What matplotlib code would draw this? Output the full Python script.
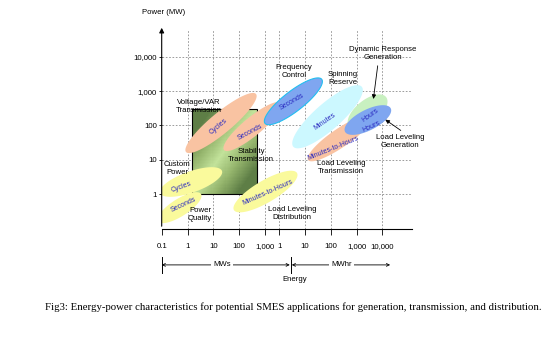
import numpy as np
import matplotlib.pyplot as plt
from matplotlib.colors import LinearSegmentedColormap
from matplotlib.patches import Polygon, Rectangle
from matplotlib.ticker import NullLocator

plt.rcParams['font.family'] = ['Liberation Sans Narrow', 'Liberation Sans', 'DejaVu Sans']
plt.rcParams['font.stretch'] = 'condensed'

# energy in MW*s, power in MW (1 MWh = 3600 MW*s)
tick_energy = [0.1, 1, 10, 100, 1000, 3600, 36000, 360000, 3.6e6, 3.6e7]
tick_energy_labels = ['0.1', '1', '10', '100', '1,000', '1', '10', '100', '1,000', '10,000']
tick_power = [1, 10, 100, 1000, 10000]
tick_power_labels = ['1', '10', '100', '1,000', '10,000']

# green box: stability transmission region
box_energy = [1.5, 480]
box_power = [1, 310]

# application ellipses: end points (energy, power) of the long axis
ell_energy = [
    (0.086, 21.7),      # custom power - cycles
    (0.072, 3.34),      # power quality - seconds
    (63, 17500),        # load leveling distribution
    (0.875, 452),       # voltage/VAR - cycles
    (26, 4200),         # stability - seconds
    (1010, 159000),     # frequency control
    (12600, 5.65e6),    # spinning reserve
    (46900, 1.42e7),    # load leveling transmission
    (1.82e6, 4.94e7),   # dynamic response
    (1.27e6, 7.5e7),    # load leveling generation
]
ell_power = [
    (1.07, 4.69),
    (0.16, 1.0),
    (0.34, 4.1),
    (16.8, 823),
    (19.2, 450),
    (115, 2210),
    (23.9, 1343),
    (9.8, 188),
    (89.8, 673),
    (65.5, 315),
]
ell_text = ['Cycles', 'Seconds', 'Minutes-to-Hours', 'Cycles', 'Seconds', 'Seconds',
            'Minutes', 'Minutes-to-Hours', 'Hours', 'Hours']
ell_text_energy = [0.6, 0.67, 1300, 15.2, 264, 10900, 213000, 437000, 1.19e7, 1.38e7]
ell_text_power = [1.63, 0.48, 1.14, 90, 65, 490, 128, 22, 200, 92]

# application labels
app_labels = ['Voltage/VAR\nTransmission', 'Frequency\nControl', 'Spinning\nReserve',
              'Dynamic Response\nGeneration', 'Load Leveling\nGeneration',
              'Load Leveling\nTransmission', 'Stability\nTransmission', 'Custom\nPower',
              'Power\nQuality', 'Load Leveling\nDistribution']
app_energy = [2.79, 13400, 1.06e6, 3.78e7, 1.72e8, 8.9e5, 289, 0.392, 3.05, 11200]
app_power = [356, 3855, 2410, 12900, 35.1, 5.93, 13.7, 5.73, 0.261, 0.27]

# styles
orange = '#F9C3A2'
yellow = '#FAFA9C'
blue = '#7FA6F0'
ell_ratio = [0.32, 0.34, 0.30, 0.23, 0.25, 0.28, 0.29, 0.24, 0.50, 0.40]
ell_face = [yellow, yellow, yellow, orange, orange, blue, '#CCF8FF', orange, '#C8F0C0', blue]
ell_edge = ['none'] * 5 + ['#22BEF0'] + ['none'] * 4
ell_rot = [20, 25, 24, 40, 28, 30, 35, 22, 35, 25]
text_blue = '#2A2AC0'
grid_col = '#8c8c8c'
label_size = 5.6


def ellipse_points(ax, e_pair, p_pair, ratio, n=160):
    ends = ax.transData.transform([(e_pair[0], p_pair[0]), (e_pair[1], p_pair[1])])
    c = ends.mean(axis=0)
    d = ends[1] - ends[0]
    half = np.hypot(d[0], d[1]) / 2
    ang = np.arctan2(d[1], d[0])
    t = np.linspace(0, 2 * np.pi, n)
    x = half * np.cos(t)
    y = half * ratio * np.sin(t)
    pts = np.column_stack([c[0] + x * np.cos(ang) - y * np.sin(ang),
                           c[1] + x * np.sin(ang) + y * np.cos(ang)])
    return ax.transData.inverted().transform(pts)


fig = plt.figure(figsize=(5.53, 3.62), dpi=100)
ax = fig.add_axes([0.2924, 0.3674, 0.4526, 0.5635])
ax.set_xscale('log')
ax.set_yscale('log')
ax.set_xlim(0.1, 5.0e8)
ax.set_ylim(0.0955, 84600)

# grid
for e in tick_energy[1:]:
    ax.axvline(e, ymax=0.975, color=grid_col, lw=0.6, ls=(0, (2, 2)), zorder=0.5)
for p in tick_power:
    ax.axhline(p, color=grid_col, lw=0.6, ls=(0, (2, 2)), zorder=0.5)

# gradient box
box_cmap = LinearSegmentedColormap.from_list('box', ['#C2E29A', '#94B46C', '#5E7E46'])
bx = np.logspace(np.log10(box_energy[0]), np.log10(box_energy[1]), 61)
by = np.logspace(np.log10(box_power[0]), np.log10(box_power[1]), 61)
U, V = np.meshgrid(np.linspace(0, 1, 60), np.linspace(0, 1, 60))
ax.pcolormesh(bx, by, np.abs(U - V), cmap=box_cmap, vmin=0, vmax=0.7, zorder=1)
ax.add_patch(Rectangle((box_energy[0], box_power[0]), box_energy[1] - box_energy[0],
                       box_power[1] - box_power[0], fill=False, ec='black', lw=0.8, zorder=1.5))

# ellipses
for i in range(len(ell_energy)):
    pts = ellipse_points(ax, ell_energy[i], ell_power[i], ell_ratio[i])
    ax.add_patch(Polygon(pts, closed=True, fc=ell_face[i], ec=ell_edge[i], lw=0.8, zorder=2 + i * 0.1))
    ax.text(ell_text_energy[i], ell_text_power[i], ell_text[i], color=text_blue, fontsize=5,
            rotation=ell_rot[i], ha='center', va='center', rotation_mode='anchor', zorder=4)

for lab, e, p in zip(app_labels, app_energy, app_power):
    ax.text(e, p, lab, fontsize=label_size, ha='center', va='center', linespacing=1.2, zorder=5,
            clip_on=False)

# pointer arrows
ax.annotate('', xy=(1.55e7, 491), xytext=(2.42e7, 6590),
            arrowprops=dict(arrowstyle='-|>', color='black', lw=0.6, mutation_scale=6), zorder=5)
ax.annotate('', xy=(3.78e7, 164), xytext=(2.25e8, 64.2),
            arrowprops=dict(arrowstyle='-|>', color='black', lw=0.6, mutation_scale=6), zorder=5,
            annotation_clip=False)

# axes
for s in ['top', 'right', 'left']:
    ax.spines[s].set_visible(False)
ax.spines['bottom'].set_linewidth(0.8)
ax.annotate('', xy=(0, 1), xytext=(0, 0), xycoords='axes fraction',
            arrowprops=dict(arrowstyle='-|>', color='black', lw=0.8, mutation_scale=7))
ax.set_xticks(tick_energy)
ax.set_xticklabels(tick_energy_labels)
ax.set_yticks(tick_power)
ax.set_yticklabels(tick_power_labels)
ax.xaxis.set_minor_locator(NullLocator())
ax.yaxis.set_minor_locator(NullLocator())
ax.tick_params(axis='x', direction='out', length=4, width=0.6, labelsize=label_size, pad=6)
ax.tick_params(axis='y', direction='out', length=2.5, width=0.6, labelsize=label_size, pad=1)
ax.set_facecolor('none')

ax.text(-0.079, 1.059, 'Power (MW)', transform=ax.transAxes, fontsize=label_size,
        ha='left', va='center')

# energy unit bands below the axis
tr = ax.get_xaxis_transform()
band_sep = 1e4
band_end = 7.1e7
for e in [0.1, band_sep]:
    ax.plot([e, e], [-0.136, -0.217], transform=tr, color='black', lw=0.7, clip_on=False)
arrow_kw = dict(arrowstyle='<->', color='black', lw=0.6, mutation_scale=5, shrinkA=0, shrinkB=0)
ax.annotate('', xy=(0.1, -0.176), xytext=(band_sep * 0.92, -0.176), xycoords=tr,
            arrowprops=arrow_kw, annotation_clip=False)
ax.annotate('', xy=(band_sep * 1.1, -0.176), xytext=(band_end, -0.176), xycoords=tr,
            arrowprops=arrow_kw, annotation_clip=False)
ax.text(21.2, -0.176, 'MWs', transform=tr, fontsize=label_size, ha='center', va='center',
        bbox=dict(fc='white', ec='none', pad=1.5), clip_on=False)
ax.text(9.5e5, -0.176, 'MWhr', transform=tr, fontsize=label_size, ha='center', va='center',
        bbox=dict(fc='white', ec='none', pad=1.5), clip_on=False)
ax.text(14700, -0.25, 'Energy', transform=tr, fontsize=label_size, ha='center', va='center',
        clip_on=False)

fig.text(0.081, 0.152, 'Fig3: Energy-power characteristics for potential SMES applications '
         'for generation, transmission, and distribution.',
         family=['Liberation Serif', 'DejaVu Serif'], fontsize=7.75, va='center', ha='left')

fig.savefig('out.png', dpi=100)
